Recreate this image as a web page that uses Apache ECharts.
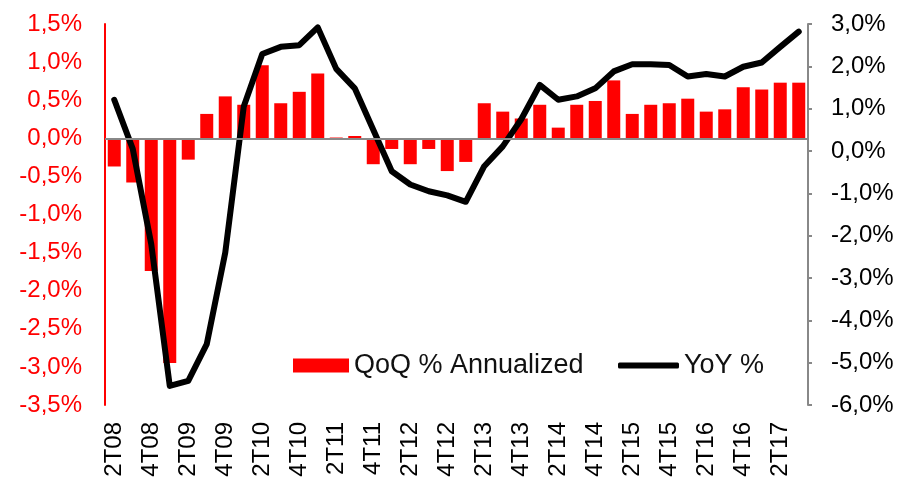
<!DOCTYPE html>
<html>
<head>
<meta charset="utf-8">
<script src="https://cdn.jsdelivr.net/npm/echarts@6/dist/echarts.min.js"></script>
<style>
  html, body { margin: 0; padding: 0; background: #fff; }
  #chart { width: 906px; height: 484px; }
</style>
</head>
<body>
<div id="chart"></div>
<script>
// trimestres 2T08 .. 3T17
const quarters = [
  '2T08','3T08','4T08','1T09','2T09','3T09','4T09','1T10','2T10','3T10',
  '4T10','1T11','2T11','3T11','4T11','1T12','2T12','3T12','4T12','1T13',
  '2T13','3T13','4T13','1T14','2T14','3T14','4T14','1T15','2T15','3T15',
  '4T15','1T16','2T16','3T16','4T16','1T17','2T17','3T17'
];
// QoQ % annualizado (eixo esquerdo)
const qoq = [
  -0.37, -0.58, -1.74, -2.95, -0.28, 0.32, 0.55, 0.44, 0.96, 0.46,
  0.61, 0.85, 0.01, 0.03, -0.34, -0.14, -0.34, -0.14, -0.43, -0.31,
  0.46, 0.35, 0.26, 0.44, 0.14, 0.44, 0.49, 0.76, 0.32, 0.44,
  0.46, 0.52, 0.35, 0.38, 0.67, 0.64, 0.73, 0.73
];
// YoY % (eixo direito)
const yoy = [
  1.21, 0.05, -2.20, -5.55, -5.43, -4.56, -2.40, 1.05, 2.29, 2.46,
  2.50, 2.92, 1.94, 1.48, 0.50, -0.48, -0.79, -0.95, -1.05, -1.20,
  -0.36, 0.11, 0.75, 1.56, 1.21, 1.29, 1.48, 1.88, 2.05, 2.05,
  2.03, 1.76, 1.82, 1.76, 1.99, 2.09, 2.46, 2.82
];

const font = 'Liberation Sans, Arial, sans-serif';
const pct = v => v.toFixed(1).replace('.', ',') + '%';

const chart = echarts.init(document.getElementById('chart'));
chart.setOption({
  animation: false,
  grid: { left: 105, right: 98, top: 24, bottom: 79 },
  legend: [
    {
      data: ['QoQ % Annualized'],
      left: 293, top: 352, padding: 0,
      icon: 'rect',
      itemWidth: 56, itemHeight: 14,
      itemStyle: { borderWidth: 0 },
      textStyle: { fontFamily: font, fontSize: 27, color: '#111' }
    },
    {
      data: ['YoY %'],
      left: 618, top: 352, padding: 0,
      icon: 'roundRect',
      itemWidth: 61, itemHeight: 6,
      itemStyle: { color: '#000', borderWidth: 0 },
      textStyle: { fontFamily: font, fontSize: 27, color: '#111' }
    }
  ],
  xAxis: {
    type: 'category',
    data: quarters,
    axisLine: { show: false },
    axisTick: { show: false },
    axisLabel: {
      interval: 1, rotate: 90, margin: 17,
      fontFamily: font, fontSize: 24, color: '#000'
    }
  },
  yAxis: [
    {
      type: 'value', min: -3.5, max: 1.5, interval: 0.5,
      splitLine: { show: false },
      axisLine: { show: true, lineStyle: { color: '#ff0000', width: 2 } },
      axisTick: { show: false },
      axisLabel: { formatter: pct, margin: 23, fontFamily: font, fontSize: 24, color: '#ff0000' }
    },
    {
      type: 'value', min: -6, max: 3, interval: 1,
      splitLine: { show: false },
      axisLine: { show: true, lineStyle: { color: '#888', width: 2 } },
      axisTick: { show: true, length: 4, lineStyle: { color: '#888', width: 2 } },
      axisLabel: { formatter: pct, margin: 23, fontFamily: font, fontSize: 24, color: '#000' }
    }
  ],
  series: [
    {
      name: 'QoQ % Annualized',
      type: 'bar',
      yAxisIndex: 0,
      data: qoq,
      barWidth: 13,
      itemStyle: { color: '#ff0000' },
      markLine: {
        silent: true,
        symbol: 'none',
        label: { show: false },
        lineStyle: { color: '#888', width: 2, type: 'solid' },
        data: [{ yAxis: 0 }]
      },
      z: 2
    },
    {
      name: 'YoY %',
      type: 'line',
      yAxisIndex: 1,
      data: yoy,
      symbol: 'none',
      lineStyle: { color: '#000', width: 6, join: 'round', cap: 'round' },
      itemStyle: { color: '#000' },
      z: 3
    }
  ]
});
</script>
</body>
</html>
